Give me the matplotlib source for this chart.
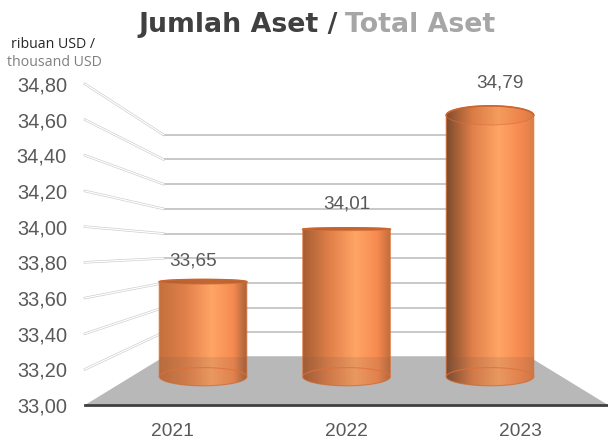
import numpy as np
import matplotlib
matplotlib.use("Agg")
import matplotlib.pyplot as plt
from matplotlib.colors import LinearSegmentedColormap
from matplotlib.patches import PathPatch, Polygon
from matplotlib.path import Path

years = ["2021", "2022", "2023"]
values = [33.65, 34.01, 34.79]
value_labels = ["33,65", "34,01", "34,79"]
ticks = [33.0, 33.2, 33.4, 33.6, 33.8, 34.0, 34.2, 34.4, 34.6, 34.8]
tick_labels = ["33,00", "33,20", "33,40", "33,60", "33,80", "34,00", "34,20", "34,40", "34,60", "34,80"]

left_colors = ["#c4703c", "#a85e34", "#7c4a2c"]
right_colors = ["#a8623a", "#c06c3c", "#dc7e48"]
top_alpha = [0.85, 0.85, 0.12]
label_offsets = [21, 25, 32]

BAR_DEPTH = 0.59
BAR_DEPTH_HALF = 0.19
BAR_HALF = 0.305
EYE_LEVEL = 33.875


def project(cat, val, depth):
    # front plane is depth 0, back wall is depth 1
    x = 1 + (np.asarray(cat) - 1) * (1 - 0.3 * depth)
    y = 33 + 0.269 * depth + (np.asarray(val) - 33) * (1 - 0.3075 * depth)
    return x, y


def ellipse(cat, val, t):
    # t in 0..pi is the half nearest the viewer
    x, _ = project(cat + BAR_HALF * np.cos(t), val, BAR_DEPTH)
    _, y = project(cat, val, BAR_DEPTH - BAR_DEPTH_HALF * np.sin(t))
    return x, y


def arc(upper, val):
    # t running over the upper or lower arc on screen
    near_is_upper = val > EYE_LEVEL
    if upper == near_is_upper:
        return np.linspace(0, np.pi, 60)
    return np.linspace(0, -np.pi, 60)


fig = plt.figure(figsize=(6.08, 4.41), dpi=100)
ax = fig.add_axes([85 / 608, 36 / 441, 523 / 608, 321 / 441])

# floor
fx = [project(-0.5, 33, 0)[0], project(2.5, 33, 0)[0], project(2.5, 33, 1)[0], project(-0.5, 33, 1)[0]]
fy = [project(-0.5, 33, 0)[1], project(2.5, 33, 0)[1], project(2.5, 33, 1)[1], project(-0.5, 33, 1)[1]]
ax.add_patch(Polygon(np.column_stack([fx, fy]), closed=True, fc="#b8b8b8", ec="none", zorder=2))

# back wall and left wall grid
for v in ticks:
    bx0, by = project(-0.5, v, 1)
    bx1, _ = project(2.5, v, 1)
    lx, ly = project(-0.5, v, 0)
    ax.plot([bx0, bx1], [by, by], color="#c4c4c4", lw=1.3, zorder=1, clip_on=False)
    if v > 33:
        ax.plot([lx, bx0], [ly, by], color="#cccccc", lw=1.8, zorder=1, clip_on=False)
        ax.plot([lx, bx0], [ly, by], color="white", lw=0.9, zorder=1.1, clip_on=False)

# cylinders
for i, v in enumerate(values):
    bx, by = ellipse(i, 33, arc(False, 33)[::-1])
    tx, ty = ellipse(i, v, arc(True, v))
    verts = np.column_stack([np.r_[bx, tx], np.r_[by, ty]])
    body = Path(np.vstack([verts, verts[0]]), closed=True)
    xmin, xmax = verts[:, 0].min(), verts[:, 0].max()
    ymin, ymax = verts[:, 1].min(), verts[:, 1].max()

    cmap = LinearSegmentedColormap.from_list(
        "cyl" + years[i],
        [(0, left_colors[i]), (0.3, "#e0804a"), (0.6, "#ffa565"), (0.85, "#f68a50"), (1, right_colors[i])],
    )
    im = ax.imshow(
        np.linspace(0, 1, 200).reshape(1, -1),
        cmap=cmap,
        aspect="auto",
        extent=[xmin, xmax, ymin, ymax],
        zorder=3,
    )
    im.set_clip_path(PathPatch(body, transform=ax.transData))

    ax.add_patch(PathPatch(body, fc="none", ec="#d9703a", lw=0.8, alpha=0.8, zorder=3.2))

    # floor seen through the lower part of the cylinder
    wall_y = project(0, 33, 1)[1]
    shade = ax.fill_between([xmin, xmax], ymin, wall_y, color="#7a5a48", alpha=0.16, lw=0, zorder=3.3)
    shade.set_clip_path(PathPatch(body, transform=ax.transData))

    # far rim of the base, seen through the body
    ex, ey = ellipse(i, 33, arc(True, 33))
    ax.plot(ex, ey, color="#e0703a", lw=0.8, alpha=0.8, zorder=3.4)

    # top rim
    ex, ey = ellipse(i, v, np.linspace(0, 2 * np.pi, 120))
    ax.fill(ex, ey, color="#b25f2e", alpha=top_alpha[i], lw=0, zorder=3.5)
    ex, ey = ellipse(i, v, arc(True, v))
    ax.plot(ex, ey, color="#c9652f", lw=1.2, zorder=3.6)
    ex, ey = ellipse(i, v, arc(False, v))
    ax.plot(ex, ey, color="#d9703a", lw=0.7, alpha=0.6, zorder=3.6)

    lx, _ = project(i, v, 0.4)
    _, bar_y = project(i, v, BAR_DEPTH)
    ax.annotate(value_labels[i], (lx, bar_y), xytext=(0, label_offsets[i] * 0.72), textcoords="offset points",
                ha="center", va="center", fontsize=13.6, family="Liberation Sans", color="#595959", zorder=5)

ax.set_xlim(-0.5, 2.5)
ax.set_ylim(33, 34.8)
ax.set_xticks([0, 1, 2])
ax.set_xticklabels(years, fontsize=13.8, family="Liberation Sans", color="#595959")
ax.set_yticks(ticks)
ax.set_yticklabels(tick_labels, fontsize=14.4, family="Liberation Sans", color="#595959")
ax.tick_params(axis="x", length=0, pad=13)
ax.tick_params(axis="y", length=0, pad=13)
for s in ["top", "right", "left"]:
    ax.spines[s].set_visible(False)
ax.spines["bottom"].set_color("#404040")
ax.spines["bottom"].set_linewidth(2)
ax.patch.set_alpha(0)

fig.text(338 / 608, 1 - 25 / 441, "Jumlah Aset /", ha="right", va="center", fontsize=19.3,
         family="DejaVu Sans", weight="bold", color="#404040")
fig.text(345 / 608, 1 - 25 / 441, "Total Aset", ha="left", va="center", fontsize=19.3,
         family="DejaVu Sans", weight="bold", color="#a6a6a6")
fig.text(53 / 608, 1 - 44 / 441, "ribuan USD /", ha="center", va="center", fontsize=10.2,
         family="Open Sans", color="#262626")
fig.text(54 / 608, 1 - 62 / 441, "thousand USD", ha="center", va="center", fontsize=10.2,
         family="Open Sans", color="#7f7f7f")

fig.savefig("out.png", dpi=100)
